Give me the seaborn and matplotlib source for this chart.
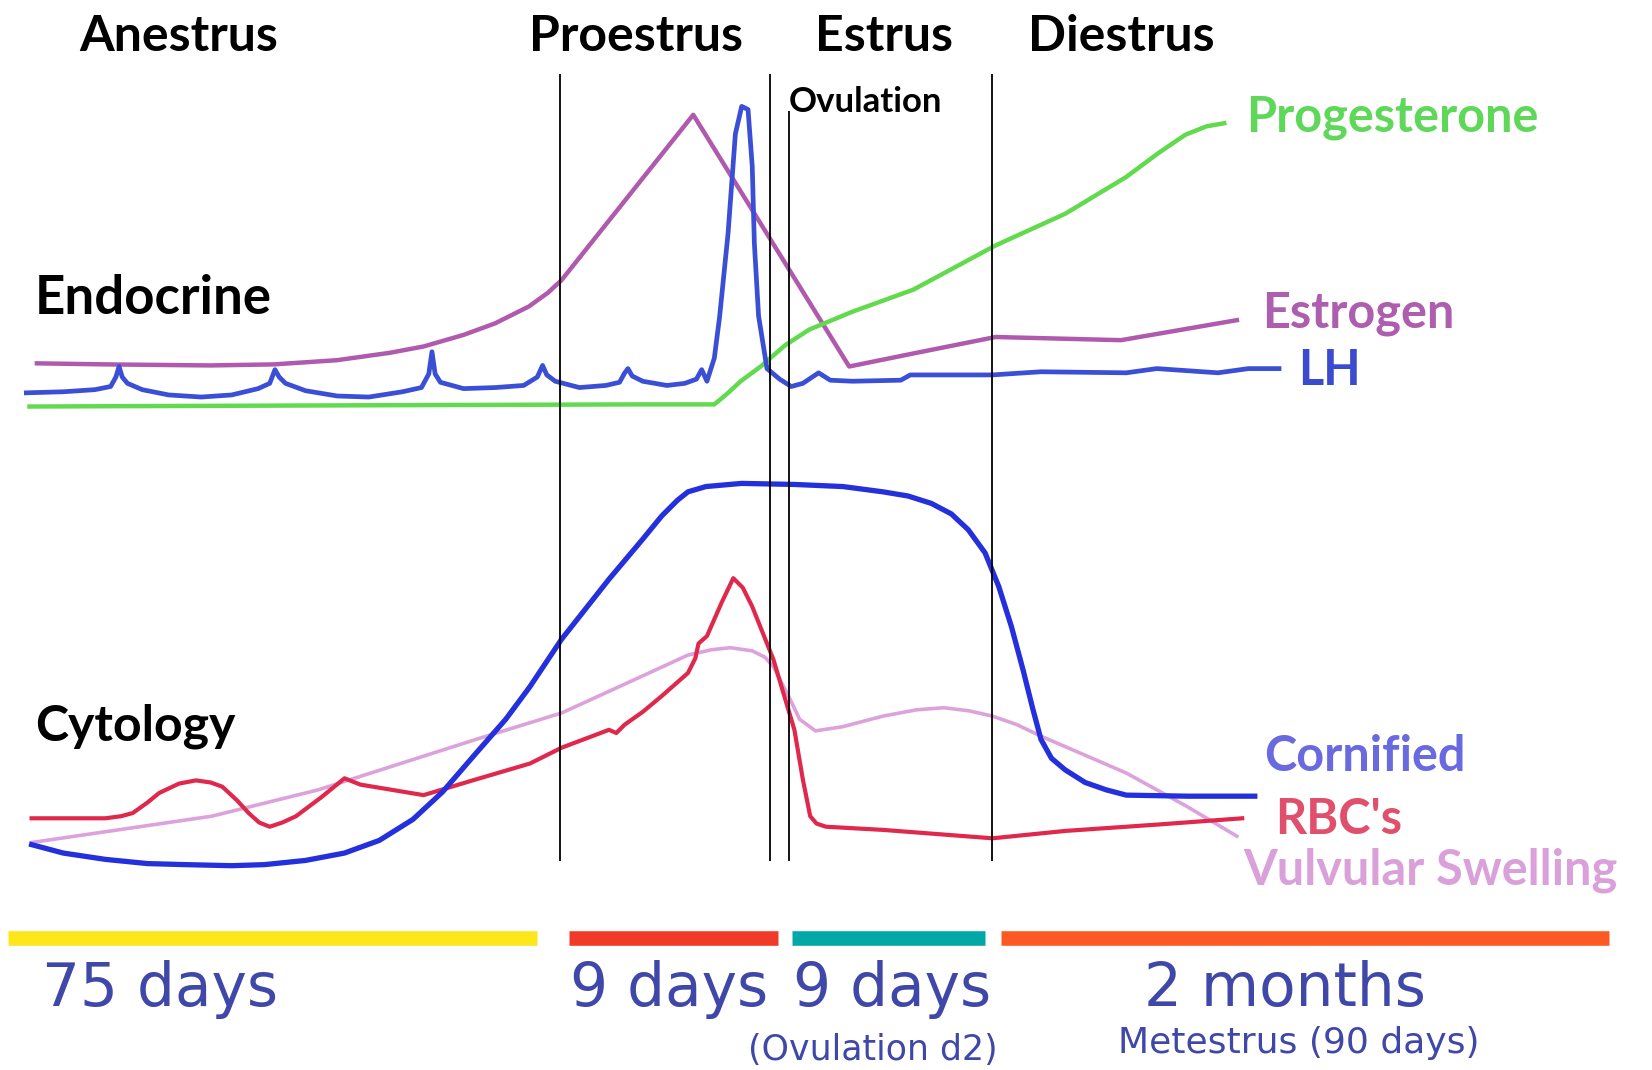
import matplotlib
matplotlib.use("Agg")
import matplotlib.pyplot as plt
import seaborn as sns

# positions in picture units (x to the right, y downwards)

# --- endocrine curves ---
estrogen_x = [35, 100, 200, 260, 320, 370, 402, 440, 470, 502, 520, 533, 658, 806, 870,
              945, 1064, 1174]
estrogen_y = [345, 346, 347, 346, 342, 335, 329, 318, 307, 291, 278, 266, 109, 348, 335,
              320, 323, 304]

lh_x = [25, 60, 90, 105, 110, 113, 116, 121, 135, 160, 191, 220, 245, 256, 261, 265, 271,
        290, 320, 350, 382, 400, 407, 410, 413, 418, 440, 470, 497, 510, 515, 519, 527,
        550, 575, 588, 593, 596, 600, 610, 633, 650, 661, 666, 671, 678, 683, 691, 698,
        704, 710, 714, 716, 720, 728, 740, 751, 762, 777, 788, 809, 855, 864, 907, 942,
        988, 1069, 1098, 1156, 1185, 1214]
lh_y = [373, 372, 370, 367, 358, 348, 358, 364, 370, 375, 377, 375, 369, 364, 351, 358, 364,
        371, 376, 377, 372, 368, 355, 334, 355, 363, 369, 368, 366, 358, 347, 356, 362,
        368, 366, 363, 354, 350, 357, 362, 366, 364, 360, 351, 362, 340, 301, 222, 127,
        101, 104, 158, 231, 300, 350, 360, 367, 364, 354, 361, 362, 361, 356, 356, 356,
        353, 354, 350, 354, 350, 350]

progesterone_x = [28, 300, 600, 678, 690, 703, 722, 745, 768, 809, 867, 945, 1011, 1069,
                  1100, 1125, 1145, 1162]
progesterone_y = [386, 385, 384, 384, 374, 362, 348, 328, 313, 296, 275, 233, 203, 168,
                  145, 128, 120, 117]

# --- cytology curves ---
cornified_x = [30, 60, 100, 140, 176, 220, 251, 290, 327, 360, 392, 420, 452, 480, 503, 533,
               578, 610, 628, 643, 653, 670, 704, 754, 800, 838, 862, 884, 903, 919, 935,
               948, 960, 971, 980, 988, 998, 1011, 1030, 1050, 1069, 1127, 1191]
cornified_y = [802, 810, 816, 820, 821, 822, 821, 817, 810, 798, 778, 752, 715, 683, 652, 607,
               550, 512, 490, 475, 467, 462, 459, 460, 462, 467, 471, 478, 488, 503, 525,
               557, 595, 636, 672, 702, 720, 731, 743, 750, 755, 756, 756]

rbc_x = [30, 100, 115, 126, 140, 151, 170, 186, 200, 211, 225, 236, 246, 256, 268, 281,
         305, 327, 342, 402, 452, 503, 533, 578, 585, 593, 610, 628, 653, 660, 663, 671,
         685, 696, 705, 714, 734, 754, 762, 769, 775, 784, 838, 942, 1011, 1098, 1179]
rbc_y = [777, 777, 775, 772, 762, 753, 744, 741, 743, 747, 760, 772, 781, 785, 781, 775,
         757, 739, 745, 755, 740, 725, 710, 693, 696, 688, 676, 661, 639, 625, 611, 604,
         572, 549, 558, 576, 626, 693, 740, 775, 782, 785, 788, 796, 789, 783, 777]

vulvular_x = [30, 201, 302, 452, 533, 603, 653, 675, 693, 714, 726, 734, 748, 759, 774, 800,
              838, 870, 896, 920, 942, 965, 988, 1069, 1127, 1174]
vulvular_y = [800, 775, 750, 702, 677, 645, 622, 617, 615, 618, 624, 633, 660, 683, 694, 690,
              680, 674, 672, 675, 680, 688, 699, 734, 766, 794]

# --- phase dividers ---
divider_x = [532, 731, 749, 942]
divider_top = [70, 70, 105, 70]

# --- duration bars ---
bar_start = [8, 540, 752, 950]
bar_end = [510, 738, 935, 1527]
bar_colors = ["#FDE619", "#F23A28", "#00A8A8", "#FC5A22"]
bar_labels = ["75 days", "9 days", "9 days", "2 months"]
bar_label_x = [152, 635, 847, 1220]

phases = ["Anestrus", "Proestrus", "Estrus", "Diestrus"]
phase_x = [170, 604, 839, 1064]

fig = plt.figure(figsize=(16.52, 10.70), dpi=100)
ax = fig.add_axes([0, 0, 1, 1])

curves = [
    (estrogen_x, estrogen_y, "#B05AAE", 3.2),
    (progesterone_x, progesterone_y, "#62DA4E", 3.2),
    (lh_x, lh_y, "#3A4ED6", 3.4),
    (vulvular_x, vulvular_y, "#DCA2DC", 2.6),
    (rbc_x, rbc_y, "#E0284C", 3.0),
    (cornified_x, cornified_y, "#2430DC", 3.8),
]
for xs, ys, col, lw in curves:
    sns.lineplot(x=xs, y=ys, sort=False, estimator=None, color=col, linewidth=lw, ax=ax)

ax.vlines(divider_x, divider_top, 818, color="black", linewidth=1.3)

for x0, x1, c in zip(bar_start, bar_end, bar_colors):
    ax.hlines(891, x0, x1, color=c, linewidth=10.5, capstyle="butt")

head = dict(fontfamily="Lato", fontweight="bold", color="black", va="center")
for name, x in zip(phases, phase_x):
    ax.text(x, 35, name, ha="center", fontsize=36, **head)
ax.text(749, 97, "Ovulation", ha="left", fontsize=25, **head)
ax.text(33, 283, "Endocrine", ha="left", fontsize=38, **head)
ax.text(33, 690, "Cytology", ha="left", fontsize=36, **head)

lab = dict(fontfamily="Lato", fontweight="bold", va="center", ha="left", fontsize=35)
ax.text(1183, 112, "Progesterone", color="#5FD85A", **lab)
ax.text(1198, 298, "Estrogen", color="#AE5EAE", **lab)
ax.text(1232, 352, "LH", color="#3B4BD0", **lab)
ax.text(1200, 718, "Cornified", color="#6A6AE0", **lab)
ax.text(1210, 778, "RBC's", color="#E0506C", **lab)
ax.text(1180, 826, "Vulvular Swelling", color="#DAA0DA", **lab)

blue_txt = "#3F48A8"
for txt, x in zip(bar_labels, bar_label_x):
    ax.text(x, 940, txt, ha="center", va="center", fontsize=43, color=blue_txt)
ax.text(828, 997, "(Ovulation d2)", ha="center", va="center", fontsize=25, color=blue_txt)
ax.text(1233, 990, "Metestrus (90 days)", ha="center", va="center", fontsize=26, color=blue_txt)

ax.set_xlim(0, 1568)
ax.set_ylim(1016, 0)
ax.axis("off")

fig.savefig("out.png", dpi=100, facecolor="white")
